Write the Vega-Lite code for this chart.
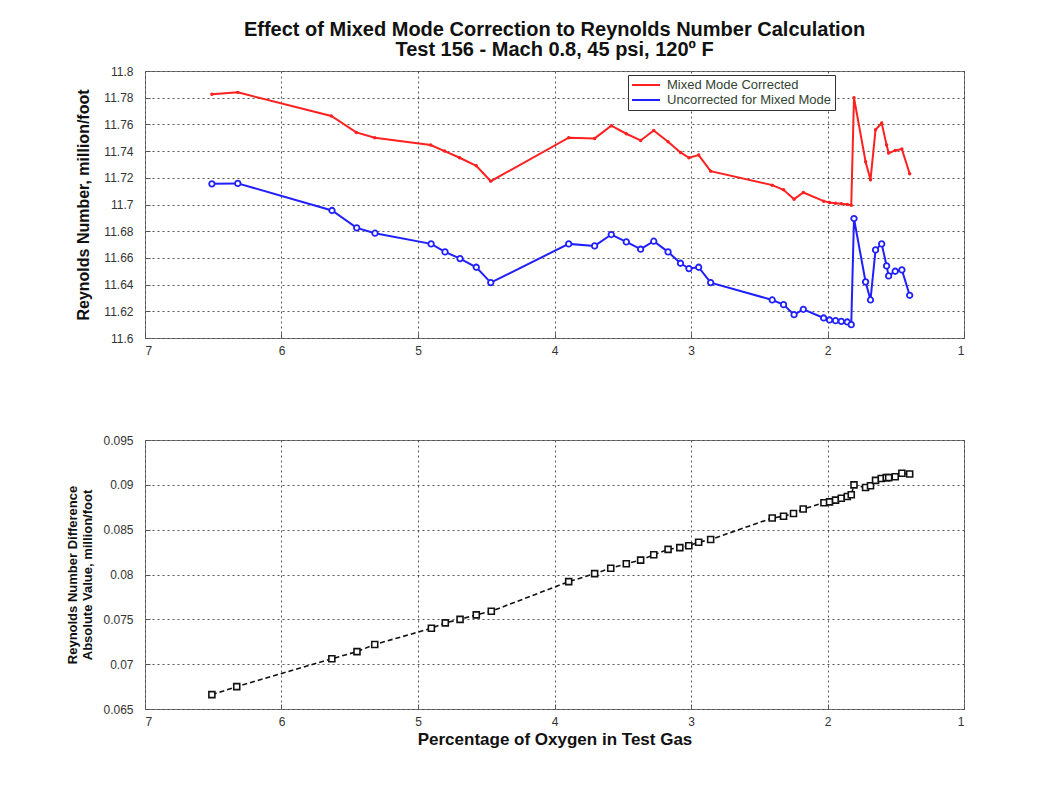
{
  "$schema": "https://vega.github.io/schema/vega-lite/v6.json",
  "background": "white",
  "padding": {"left": 66, "top": 19, "right": 10, "bottom": 10},
  "datasets": {
    "top": [
      {"x": 6.51, "y": 11.7826, "s": "Mixed Mode Corrected"},
      {"x": 6.32, "y": 11.784, "s": "Mixed Mode Corrected"},
      {"x": 5.635, "y": 11.7663, "s": "Mixed Mode Corrected"},
      {"x": 5.452, "y": 11.754, "s": "Mixed Mode Corrected"},
      {"x": 5.317, "y": 11.75, "s": "Mixed Mode Corrected"},
      {"x": 4.907, "y": 11.7445, "s": "Mixed Mode Corrected"},
      {"x": 4.805, "y": 11.74, "s": "Mixed Mode Corrected"},
      {"x": 4.695, "y": 11.735, "s": "Mixed Mode Corrected"},
      {"x": 4.573, "y": 11.729, "s": "Mixed Mode Corrected"},
      {"x": 4.467, "y": 11.7175, "s": "Mixed Mode Corrected"},
      {"x": 3.896, "y": 11.75, "s": "Mixed Mode Corrected"},
      {"x": 3.706, "y": 11.7495, "s": "Mixed Mode Corrected"},
      {"x": 3.584, "y": 11.759, "s": "Mixed Mode Corrected"},
      {"x": 3.474, "y": 11.753, "s": "Mixed Mode Corrected"},
      {"x": 3.369, "y": 11.748, "s": "Mixed Mode Corrected"},
      {"x": 3.273, "y": 11.7555, "s": "Mixed Mode Corrected"},
      {"x": 3.168, "y": 11.747, "s": "Mixed Mode Corrected"},
      {"x": 3.077, "y": 11.739, "s": "Mixed Mode Corrected"},
      {"x": 3.015, "y": 11.735, "s": "Mixed Mode Corrected"},
      {"x": 2.944, "y": 11.737, "s": "Mixed Mode Corrected"},
      {"x": 2.856, "y": 11.725, "s": "Mixed Mode Corrected"},
      {"x": 2.405, "y": 11.7145, "s": "Mixed Mode Corrected"},
      {"x": 2.322, "y": 11.711, "s": "Mixed Mode Corrected"},
      {"x": 2.245, "y": 11.704, "s": "Mixed Mode Corrected"},
      {"x": 2.177, "y": 11.709, "s": "Mixed Mode Corrected"},
      {"x": 2.028, "y": 11.7025, "s": "Mixed Mode Corrected"},
      {"x": 1.985, "y": 11.7015, "s": "Mixed Mode Corrected"},
      {"x": 1.941, "y": 11.701, "s": "Mixed Mode Corrected"},
      {"x": 1.899, "y": 11.7005, "s": "Mixed Mode Corrected"},
      {"x": 1.855, "y": 11.7, "s": "Mixed Mode Corrected"},
      {"x": 1.826, "y": 11.6995, "s": "Mixed Mode Corrected"},
      {"x": 1.806, "y": 11.78, "s": "Mixed Mode Corrected"},
      {"x": 1.721, "y": 11.732, "s": "Mixed Mode Corrected"},
      {"x": 1.685, "y": 11.7185, "s": "Mixed Mode Corrected"},
      {"x": 1.648, "y": 11.756, "s": "Mixed Mode Corrected"},
      {"x": 1.603, "y": 11.761, "s": "Mixed Mode Corrected"},
      {"x": 1.567, "y": 11.7445, "s": "Mixed Mode Corrected"},
      {"x": 1.552, "y": 11.7385, "s": "Mixed Mode Corrected"},
      {"x": 1.504, "y": 11.7405, "s": "Mixed Mode Corrected"},
      {"x": 1.455, "y": 11.7415, "s": "Mixed Mode Corrected"},
      {"x": 1.398, "y": 11.723, "s": "Mixed Mode Corrected"},
      {"x": 6.51, "y": 11.7155, "s": "Uncorrected for Mixed Mode"},
      {"x": 6.32, "y": 11.7158, "s": "Uncorrected for Mixed Mode"},
      {"x": 5.63, "y": 11.6955, "s": "Uncorrected for Mixed Mode"},
      {"x": 5.449, "y": 11.6825, "s": "Uncorrected for Mixed Mode"},
      {"x": 5.315, "y": 11.6785, "s": "Uncorrected for Mixed Mode"},
      {"x": 4.904, "y": 11.6705, "s": "Uncorrected for Mixed Mode"},
      {"x": 4.802, "y": 11.6645, "s": "Uncorrected for Mixed Mode"},
      {"x": 4.692, "y": 11.6595, "s": "Uncorrected for Mixed Mode"},
      {"x": 4.573, "y": 11.653, "s": "Uncorrected for Mixed Mode"},
      {"x": 4.467, "y": 11.6415, "s": "Uncorrected for Mixed Mode"},
      {"x": 3.896, "y": 11.6705, "s": "Uncorrected for Mixed Mode"},
      {"x": 3.706, "y": 11.669, "s": "Uncorrected for Mixed Mode"},
      {"x": 3.584, "y": 11.6775, "s": "Uncorrected for Mixed Mode"},
      {"x": 3.474, "y": 11.672, "s": "Uncorrected for Mixed Mode"},
      {"x": 3.369, "y": 11.6665, "s": "Uncorrected for Mixed Mode"},
      {"x": 3.273, "y": 11.6725, "s": "Uncorrected for Mixed Mode"},
      {"x": 3.168, "y": 11.6645, "s": "Uncorrected for Mixed Mode"},
      {"x": 3.077, "y": 11.656, "s": "Uncorrected for Mixed Mode"},
      {"x": 3.015, "y": 11.652, "s": "Uncorrected for Mixed Mode"},
      {"x": 2.944, "y": 11.653, "s": "Uncorrected for Mixed Mode"},
      {"x": 2.856, "y": 11.6415, "s": "Uncorrected for Mixed Mode"},
      {"x": 2.405, "y": 11.6285, "s": "Uncorrected for Mixed Mode"},
      {"x": 2.322, "y": 11.625, "s": "Uncorrected for Mixed Mode"},
      {"x": 2.245, "y": 11.6175, "s": "Uncorrected for Mixed Mode"},
      {"x": 2.177, "y": 11.6215, "s": "Uncorrected for Mixed Mode"},
      {"x": 2.028, "y": 11.615, "s": "Uncorrected for Mixed Mode"},
      {"x": 1.985, "y": 11.6135, "s": "Uncorrected for Mixed Mode"},
      {"x": 1.941, "y": 11.613, "s": "Uncorrected for Mixed Mode"},
      {"x": 1.899, "y": 11.6125, "s": "Uncorrected for Mixed Mode"},
      {"x": 1.855, "y": 11.612, "s": "Uncorrected for Mixed Mode"},
      {"x": 1.826, "y": 11.61, "s": "Uncorrected for Mixed Mode"},
      {"x": 1.806, "y": 11.6895, "s": "Uncorrected for Mixed Mode"},
      {"x": 1.721, "y": 11.642, "s": "Uncorrected for Mixed Mode"},
      {"x": 1.685, "y": 11.6285, "s": "Uncorrected for Mixed Mode"},
      {"x": 1.648, "y": 11.666, "s": "Uncorrected for Mixed Mode"},
      {"x": 1.603, "y": 11.6705, "s": "Uncorrected for Mixed Mode"},
      {"x": 1.567, "y": 11.654, "s": "Uncorrected for Mixed Mode"},
      {"x": 1.552, "y": 11.6465, "s": "Uncorrected for Mixed Mode"},
      {"x": 1.504, "y": 11.65, "s": "Uncorrected for Mixed Mode"},
      {"x": 1.455, "y": 11.651, "s": "Uncorrected for Mixed Mode"},
      {"x": 1.398, "y": 11.632, "s": "Uncorrected for Mixed Mode"}
    ],
    "bottom": [
      {"x": 6.51, "d": 0.0666}, {"x": 6.328, "d": 0.0675}, {"x": 5.631, "d": 0.0706},
      {"x": 5.447, "d": 0.0714}, {"x": 5.317, "d": 0.0722}, {"x": 4.902, "d": 0.074},
      {"x": 4.8, "d": 0.0746}, {"x": 4.692, "d": 0.075}, {"x": 4.573, "d": 0.0755},
      {"x": 4.463, "d": 0.0759}, {"x": 3.896, "d": 0.0792}, {"x": 3.706, "d": 0.0801},
      {"x": 3.588, "d": 0.0807}, {"x": 3.474, "d": 0.0812}, {"x": 3.369, "d": 0.0816},
      {"x": 3.273, "d": 0.0822}, {"x": 3.168, "d": 0.0828}, {"x": 3.082, "d": 0.083},
      {"x": 3.016, "d": 0.0832}, {"x": 2.944, "d": 0.0836}, {"x": 2.856, "d": 0.0839},
      {"x": 2.405, "d": 0.0863}, {"x": 2.322, "d": 0.0865}, {"x": 2.249, "d": 0.0868},
      {"x": 2.178, "d": 0.0873}, {"x": 2.026, "d": 0.088}, {"x": 1.985, "d": 0.0881},
      {"x": 1.941, "d": 0.0883}, {"x": 1.899, "d": 0.0885}, {"x": 1.855, "d": 0.0887},
      {"x": 1.826, "d": 0.0889}, {"x": 1.806, "d": 0.09}, {"x": 1.721, "d": 0.0897},
      {"x": 1.685, "d": 0.0899}, {"x": 1.648, "d": 0.0905}, {"x": 1.606, "d": 0.0907},
      {"x": 1.57, "d": 0.0908}, {"x": 1.552, "d": 0.0908}, {"x": 1.504, "d": 0.0909},
      {"x": 1.455, "d": 0.0913}, {"x": 1.398, "d": 0.0912}
    ]
  },
  "vconcat": [
    {
      "width": 819,
      "height": 267,
      "title": {
        "text": ["Effect of Mixed Mode Correction to Reynolds Number Calculation", "Test 156 - Mach 0.8, 45 psi, 120º F"],
        "anchor": "middle",
        "frame": "group",
        "font": "Liberation Sans",
        "fontSize": 20,
        "fontWeight": "bold",
        "color": "#111",
        "lineHeight": 20,
        "offset": 5
      },
      "data": {"name": "top"},
      "encoding": {
        "x": {
          "field": "x", "type": "quantitative",
          "scale": {"domain": [1, 7], "reverse": true, "nice": false, "zero": false},
          "axis": {"values": [1, 2, 3, 4, 5, 6, 7], "title": null, "labelPadding": 12}
        },
        "y": {
          "field": "y", "type": "quantitative",
          "scale": {"domain": [11.6, 11.8], "nice": false, "zero": false},
          "axis": {
            "values": [11.6, 11.62, 11.64, 11.66, 11.68, 11.7, 11.72, 11.74, 11.76, 11.78, 11.8],
            "format": ".4~g",
            "title": "Reynolds Number, million/foot",
            "titleFontSize": 16,
            "titlePadding": 12
          }
        }
      },
      "layer": [
        {
          "mark": {"type": "line", "strokeWidth": 2},
          "encoding": {
            "color": {
              "field": "s", "type": "nominal",
              "scale": {"domain": ["Mixed Mode Corrected", "Uncorrected for Mixed Mode"], "range": ["#ff2020", "#2020ff"]},
              "legend": {
                "title": null,
                "orient": "none",
                "legendX": 483,
                "legendY": 4,
                "symbolType": "stroke",
                "symbolSize": 784,
                "symbolStrokeWidth": 2,
                "labelFont": "Liberation Sans",
                "labelFontSize": 13,
                "labelColor": "#334433",
                "labelOffset": 6,
                "clipHeight": 14,
                "rowPadding": 1,
                "padding": 3,
                "strokeColor": "#333",
                "fillColor": "white",
                "labelLimit": 300
              }
            }
          }
        },
        {
          "transform": [{"filter": "datum.s == 'Mixed Mode Corrected'"}],
          "mark": {"type": "point", "shape": "circle", "filled": true, "size": 12, "color": "#ff2020", "opacity": 1}
        },
        {
          "transform": [{"filter": "datum.s == 'Uncorrected for Mixed Mode'"}],
          "mark": {"type": "point", "shape": "circle", "filled": false, "size": 30, "strokeWidth": 1.8, "color": "#2020ff", "fill": "white", "fillOpacity": 1, "opacity": 1}
        }
      ]
    },
    {
      "width": 819,
      "height": 269,
      "data": {"name": "bottom"},
      "encoding": {
        "x": {
          "field": "x", "type": "quantitative",
          "scale": {"domain": [1, 7], "reverse": true, "nice": false, "zero": false},
          "axis": {"values": [1, 2, 3, 4, 5, 6, 7], "title": "Percentage of Oxygen in Test Gas", "titleFontSize": 17, "labelPadding": 12, "titlePadding": 4}
        },
        "y": {
          "field": "d", "type": "quantitative",
          "scale": {"domain": [0.065, 0.095], "nice": false, "zero": false},
          "axis": {
            "values": [0.065, 0.07, 0.075, 0.08, 0.085, 0.09, 0.095],
            "format": ".3~g",
            "title": ["Reynolds Number Difference", "Absolute Value, million/foot"],
            "titlePadding": 8
          }
        }
      },
      "layer": [
        {
          "mark": {"type": "line", "color": "#111", "strokeWidth": 1.6, "strokeDash": [5, 3]}
        },
        {
          "mark": {"type": "point", "shape": "square", "filled": false, "size": 36, "strokeWidth": 1.6, "color": "#111", "fill": "white", "fillOpacity": 1, "opacity": 1}
        }
      ]
    }
  ],
  "spacing": 102,
  "bounds": "flush",
  "config": {
    "view": {"stroke": "#777", "strokeWidth": 1},
    "axis": {
      "labelFont": "Liberation Sans Narrow, Liberation Sans",
      "labelFontSize": 12,
      "labelColor": "#333",
      "titleFont": "Liberation Sans",
      "titleFontSize": 13,
      "titleFontWeight": "bold",
      "titleColor": "#111",
      "domain": false,
      "ticks": true,
      "tickSize": -5,
      "tickColor": "#555",
      "tickWidth": 1,
      "labelPadding": 17,
      "grid": true,
      "gridColor": "#444",
      "gridDash": [2, 3],
      "gridWidth": 1,
      "gridOpacity": 0.9
    }
  }
}
